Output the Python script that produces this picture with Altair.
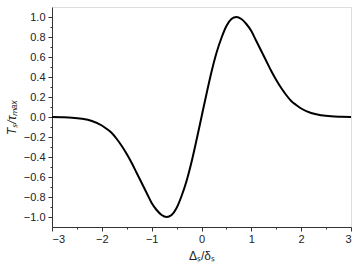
import altair as alt
import pandas as pd

x_vals = [-3.0, -2.8, -2.6, -2.4, -2.2, -2.0, -1.9, -1.8, -1.7, -1.6, -1.5, -1.4,
          -1.3, -1.2, -1.1, -1.0, -0.9, -0.8, -0.7, -0.6, -0.5, -0.4, -0.3, -0.2,
          -0.1, 0.0, 0.1, 0.2, 0.3, 0.4, 0.5, 0.6, 0.7, 0.8, 0.9, 1.0, 1.1, 1.2,
          1.3, 1.4, 1.5, 1.6, 1.7, 1.8, 1.9, 2.0, 2.2, 2.4, 2.6, 2.8, 3.0]
y_vals = [-0.001, -0.003, -0.007, -0.018, -0.04, -0.085, -0.12, -0.16, -0.22, -0.29,
          -0.37, -0.46, -0.56, -0.66, -0.76, -0.86, -0.93, -0.98, -1.00, -0.98,
          -0.91, -0.79, -0.64, -0.45, -0.23, 0.0, 0.23, 0.45, 0.64, 0.79, 0.91,
          0.98, 1.00, 0.98, 0.93, 0.86, 0.76, 0.66, 0.56, 0.46, 0.37, 0.29, 0.22,
          0.16, 0.12, 0.085, 0.04, 0.018, 0.007, 0.003, 0.001]

x_major = [-3, -2, -1, 0, 1, 2, 3]
x_minor = [-2.5, -1.5, -0.5, 0.5, 1.5, 2.5]
y_major = [-1.0, -0.8, -0.6, -0.4, -0.2, 0.0, 0.2, 0.4, 0.6, 0.8, 1.0]
y_minor = [-0.9, -0.7, -0.5, -0.3, -0.1, 0.1, 0.3, 0.5, 0.7, 0.9]

df = pd.DataFrame({"x": x_vals, "y": y_vals})

xs = alt.Scale(domain=[-3, 3], nice=False, zero=False)
ys = alt.Scale(domain=[-1.1, 1.1], nice=False, zero=False)

axis_common = dict(
    domainColor="#333333", tickColor="#333333", labelColor="#222222",
    labelFont="Liberation Sans", labelFontSize=11, grid=False,
    titleFont="Liberation Sans", titleFontSize=12, titleColor="#222222",
    titleFontWeight="normal",
)

main = alt.Chart(df).mark_line(color="black", strokeWidth=2, interpolate="monotone").encode(
    x=alt.X("x:Q", scale=xs, axis=alt.Axis(
        values=x_major, format="d", orient="bottom", tickSize=4, labelPadding=2,
        title="Δₛ/δₛ", titlePadding=6, **axis_common)),
    y=alt.Y("y:Q", scale=ys, axis=alt.Axis(
        values=y_major, format=".1f", orient="left", tickSize=4, labelPadding=3,
        title="Tₛ/τₘₐₓ", titleFontStyle="italic", titlePadding=5, **axis_common)),
)

minor = alt.Chart(df).mark_line(strokeOpacity=0).encode(
    x=alt.X("x:Q", scale=xs, axis=alt.Axis(
        values=x_minor, labels=False, orient="bottom", tickSize=2, title=None,
        domain=False, grid=False, tickColor="#333333")),
    y=alt.Y("y:Q", scale=ys, axis=alt.Axis(
        values=y_minor, labels=False, orient="left", tickSize=2, title=None,
        domain=False, grid=False, tickColor="#333333")),
)

chart = alt.layer(main, minor).resolve_axis(x="independent", y="independent").properties(
    width=299, height=220,
    autosize=alt.AutoSizeParams(type="none"),
    padding={"left": 52, "top": 7, "right": 11, "bottom": 43},
).configure_view(stroke="#808080", strokeWidth=1.2).configure(background="white")

chart.save("out.html", embed_options={"renderer": "svg", "actions": False})
